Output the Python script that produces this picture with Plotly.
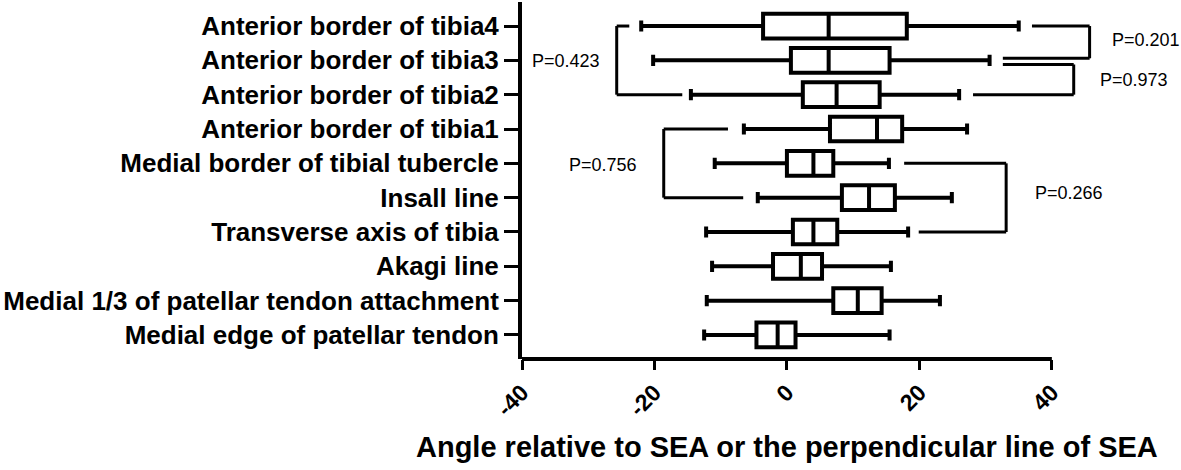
import plotly.graph_objects as go

# ---- data ----
categories = [
    "Anterior border of tibia4",
    "Anterior border of tibia3",
    "Anterior border of tibia2",
    "Anterior border of tibia1",
    "Medial border of tibial tubercle",
    "Insall line",
    "Transverse axis of tibia",
    "Akagi line",
    "Medial 1/3 of patellar tendon attachment",
    "Medial edge of patellar tendon",
]
mins = [-22.0, -20.2, -14.5, -6.5, -10.9, -4.4, -12.2, -11.3, -12.1, -12.5]
q1 = [-3.6, 0.6, 2.4, 6.5, 0.0, 8.3, 0.9, -2.1, 7.0, -4.6]
medians = [6.3, 6.3, 7.5, 13.6, 4.0, 12.4, 4.0, 2.1, 10.7, -1.4]
q3 = [18.1, 15.5, 14.0, 17.4, 7.0, 16.3, 7.6, 5.3, 14.3, 1.3]
maxs = [35.0, 30.6, 26.0, 27.2, 15.4, 24.9, 18.3, 15.7, 23.1, 15.5]

x_ticks = [-40, -20, 0, 20, 40]
x_title = "Angle relative to SEA or the perpendicular line of SEA"

# comparisons: p-value label
p_labels = ["P=0.423", "P=0.756", "P=0.201", "P=0.973", "P=0.266"]

# bracket geometry (annotation layout): vertical x, (y_top, x_top_end), (y_bot, x_bot_end)
brackets = [
    (-25.7, (0.0, -23.8), (2.0, -15.8)),
    (-18.6, (3.0, -8.9), (5.0, -6.6)),
    (45.7, (0.0, 37.0), (0.94, 32.6)),
    (43.3, (1.12, 32.6), (2.0, 28.1)),
    (33.1, (4.0, 17.7), (6.0, 19.9)),
]
label_pos = [(-33.4, 1.02), (-27.8, 4.05), (54.2, 0.41), (52.4, 1.57), (42.6, 4.87)]

BOLD = "Liberation Sans"

fig = go.Figure()
fig.add_trace(go.Box(
    y=categories,
    lowerfence=mins,
    q1=q1,
    median=medians,
    q3=q3,
    upperfence=maxs,
    orientation="h",
    boxpoints=False,
    fillcolor="white",
    line=dict(color="black", width=4),
    whiskerwidth=0.45,
    width=0.72,
    hoverinfo="skip",
    showlegend=False,
))

shapes = []
# x-axis baseline only from -40 to 40
shapes.append(dict(type="line", xref="x", yref="paper", x0=-40, x1=40, y0=0, y1=0,
                   line=dict(color="black", width=4)))
for xv, (yt, xt), (yb, xb) in brackets:
    for (a, b, c, d) in [(xt, yt, xv, yt), (xv, yt, xv, yb), (xv, yb, xb, yb)]:
        shapes.append(dict(type="line", xref="x", yref="y", x0=a, y0=b, x1=c, y1=d,
                           line=dict(color="black", width=3)))

annotations = []
for (lx, ly), txt in zip(label_pos, p_labels):
    annotations.append(dict(x=lx, y=ly, xref="x", yref="y", text=txt, showarrow=False,
                            font=dict(family="Liberation Sans", size=18, color="black"),
                            xanchor="center", yanchor="middle"))
annotations.append(dict(x=0, y=-0.246, xref="x", yref="paper", text=x_title, showarrow=False,
                        font=dict(family=BOLD, size=29, color="black", weight="bold"),
                        xanchor="center", yanchor="middle"))

fig.update_layout(
    width=1181, height=470,
    margin=dict(l=522, r=0, t=2, b=111, autoexpand=False),
    paper_bgcolor="white", plot_bgcolor="white",
    shapes=shapes, annotations=annotations,
    xaxis=dict(range=[-40, 59.5], tickvals=x_ticks, ticktext=[str(v) for v in x_ticks],
               tickangle=-45, ticks="outside", ticklen=10, tickwidth=3, tickcolor="black",
               showline=False, showgrid=False, zeroline=False,
               tickfont=dict(family=BOLD, size=23, color="black", weight="bold"),
               automargin=False),
    yaxis=dict(type="category", categoryorder="array", categoryarray=categories,
               range=[9.70, -0.70], ticks="outside", ticklen=14, tickwidth=3,
               tickcolor="black", showline=True, linewidth=4, linecolor="black",
               showgrid=False, zeroline=False,
               tickfont=dict(family=BOLD, size=26, color="black", weight="bold"),
               automargin=False),
)

fig.write_html("out.html",
               config={"displayModeBar": False},
               post_script="document.body.style.margin='0px';document.body.style.overflow='hidden';")
